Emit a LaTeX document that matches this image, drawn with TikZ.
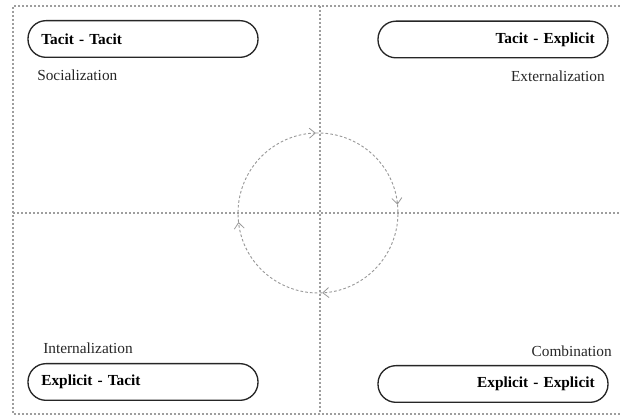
\documentclass[tikz,border=0pt]{standalone}
\usepackage{fontspec}
\setmainfont{Liberation Serif}
\usetikzlibrary{arrows.meta}
\begin{document}
\begin{tikzpicture}[x=0.75pt,y=0.75pt,
  gridline/.style={draw=black!38, line width=0.9pt, dash pattern=on 1.2pt off 1.8pt},
  cycleline/.style={draw=black!40, line width=0.7pt, dash pattern=on 2pt off 1.6pt},
  cycletip/.style={-{Straight Barb[length=4.5pt,width=7.5pt,line width=0.6pt]}},
  modebox/.style={draw=black!85, line width=1pt, rounded corners=13.5pt,
    minimum height=27.5pt, inner xsep=10pt, text width=152.5pt,
    font=\bfseries\fontsize{11.5}{13}\selectfont},
  modeleft/.style={modebox, align=left},
  moderight/.style={modebox, align=right},
  modelabel/.style={inner sep=0pt, font=\fontsize{11.5}{13}\selectfont, text=black!85}]
\useasboundingbox (0,0) rectangle (620,416);

% dotted frame and quadrant axes
\coordinate (ftl) at (13,410);
\coordinate (fbl) at (13,2);
\coordinate (ftr) at (620,410);
\coordinate (fbr) at (620,2);
\coordinate (vt) at (320,410);
\coordinate (vb) at (320,2);
\coordinate (hl) at (13,203);
\coordinate (hr) at (620,203);
\draw[gridline] (ftr) -- (ftl) -- (fbl) -- (fbr);
\draw[gridline] (vt) -- (vb);
\draw[gridline] (hl) -- (hr);

% knowledge conversion modes
\node[modeleft]  (tt) at (143,377) {Tacit - Tacit};
\node[moderight] (te) at (493,376.5) {Tacit - Explicit};
\node[modeleft]  (et) at (143,34) {Explicit - Tacit};
\node[moderight] (ee) at (493,32) {Explicit - Explicit};

\node[modelabel, anchor=west] (soc) at (37,341) {Socialization};
\node[modelabel, anchor=east] (ext) at (605,340) {Externalization};
\node[modelabel, anchor=west] (int) at (43,68) {Internalization};
\node[modelabel, anchor=east] (com) at (612,65) {Combination};

% clockwise knowledge spiral
\coordinate (c) at (318,203);
\draw[cycleline, cycletip] ([shift={(186.5:80)}]c) arc[start angle=186.5, end angle=91.5, radius=80];
\draw[cycleline, cycletip] ([shift={(91.5:80)}]c) arc[start angle=91.5, end angle=6, radius=80];
\draw[cycleline, cycletip] ([shift={(6:80)}]c) arc[start angle=6, end angle=-87, radius=80];
\draw[cycleline, cycletip] ([shift={(-87:80)}]c) arc[start angle=-87, end angle=-173.5, radius=80];
\end{tikzpicture}
\end{document}
